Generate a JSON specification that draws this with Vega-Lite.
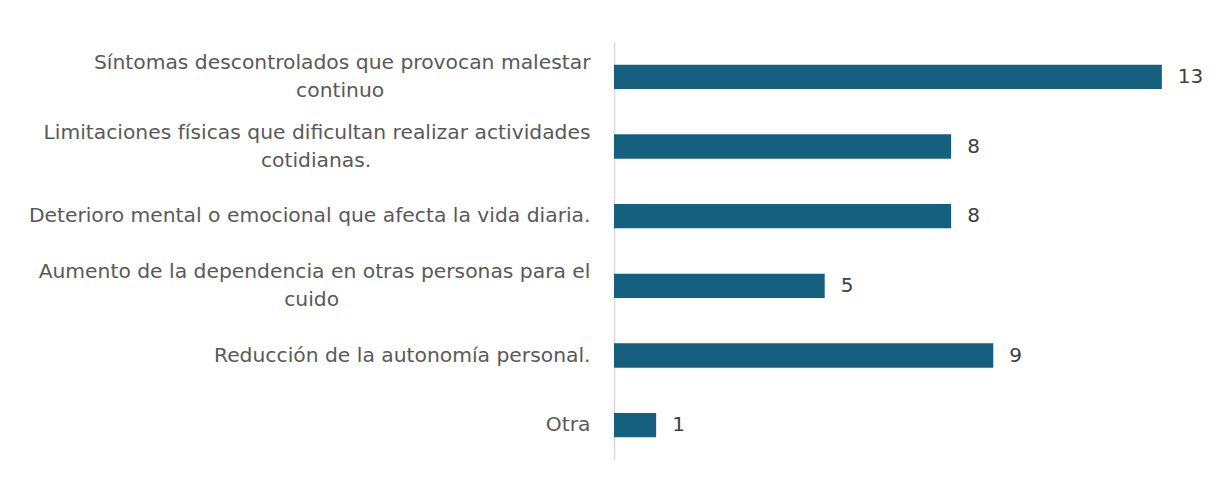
{
  "$schema": "https://vega.github.io/schema/vega-lite/v6.json",
  "autosize": "none",
  "width": 590,
  "height": 418,
  "padding": {"left": 614, "top": 42, "right": 16, "bottom": 21},
  "background": "white",
  "config": {"view": {"stroke": null}, "font": "DejaVu Sans"},
  "data": {"values": [
    {"cat": "Síntomas descontrolados que provocan malestar|continuo", "n": 13},
    {"cat": "Limitaciones físicas que dificultan realizar actividades|cotidianas.", "n": 8},
    {"cat": "Deterioro mental o emocional que afecta la vida diaria.", "n": 8},
    {"cat": "Aumento de la dependencia en otras personas para el|cuido", "n": 5},
    {"cat": "Reducción de la autonomía personal.", "n": 9},
    {"cat": "Otra", "n": 1}
  ]},
  "encoding": {
    "y": {"field": "cat", "type": "nominal", "sort": null,
      "scale": {"paddingInner": 0, "paddingOuter": 0},
      "axis": {"title": null, "ticks": false, "domainColor": "#D9D9D9", "domainWidth": 1.5,
        "labelExpr": "indexof(datum.label, '|') < 0 ? datum.label : [split(datum.label, '|')[0], split(datum.label, '|')[1] + substring('\u00a0\u00a0\u00a0\u00a0\u00a0\u00a0\u00a0\u00a0\u00a0\u00a0\u00a0\u00a0\u00a0\u00a0\u00a0\u00a0\u00a0\u00a0\u00a0\u00a0\u00a0\u00a0\u00a0\u00a0\u00a0\u00a0\u00a0\u00a0\u00a0\u00a0\u00a0\u00a0\u00a0\u00a0\u00a0\u00a0\u00a0\u00a0\u00a0\u00a0\u00a0\u00a0\u00a0\u00a0\u00a0', 0, split(datum.label, '|')[1] == 'continuo' ? 32 : split(datum.label, '|')[1] == 'cuido' ? 39 : 34) + '\u200b']",
        "labelFontSize": 20.3, "labelColor": "#595959",
        "labelPadding": 24, "labelLineHeight": 28, "labelLimit": 0,
        "labelOffset": {"condition": {"test": "indexof(datum.value, '|') >= 0", "value": -14}, "value": 0}}},
    "x": {"field": "n", "type": "quantitative", "scale": {"domain": [0, 14]}, "axis": null}
  },
  "layer": [
    {"mark": {"type": "bar", "color": "#16607F", "height": {"band": 0.35}}},
    {"mark": {"type": "text", "align": "left", "dx": 16, "fontSize": 20, "color": "#404040"},
     "encoding": {"text": {"field": "n"}}}
  ]
}
